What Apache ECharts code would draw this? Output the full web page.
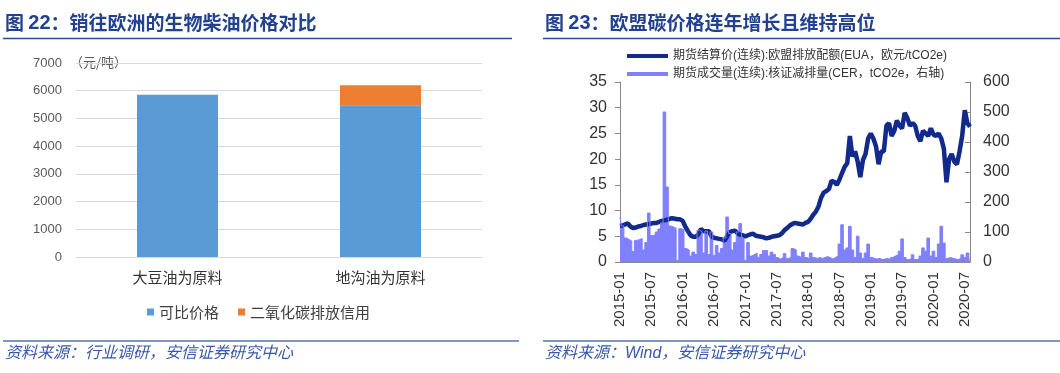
<!DOCTYPE html>
<html><head><meta charset="utf-8">
<script src="https://cdn.jsdelivr.net/npm/echarts@6/dist/echarts.min.js"></script>
<style>html,body{margin:0;padding:0;background:#fff}#c{width:1060px;height:373px}</style>
</head><body><div id="c"></div>
<script>
// ---- Figure 22 data ----
const barCategories = ['大豆油为原料', '地沟油为原料'];
const comparablePrice = [5850, 5480];
const co2Credit = [null, 720];
const barSeriesNames = ['可比价格', '二氧化碳排放信用'];

// ---- Figure 23 data (semi-monthly samples, 2015-01-01 .. 2020-08-01) ----
const dates = [];
for (let y = 2015; y <= 2020; y++) {
  for (let m = 1; m <= 12; m++) {
    for (const d of ['01', '16']) {
      if (dates.length < 135) dates.push(y + '-' + String(m).padStart(2, '0') + '-' + d);
    }
  }
}
const euaPrice = [
  7.0,7.1,7.3,7.5,6.9,6.6,6.7,6.9,7.0,7.2,7.3,7.4,
  7.5,7.6,7.6,7.8,8.0,8.1,8.2,8.4,8.5,8.4,8.3,8.3,
  8.0,6.9,6.0,5.2,4.9,4.9,5.4,6.4,6.0,6.0,6.0,5.0,
  4.7,4.6,4.5,4.4,4.1,5.0,5.8,6.0,6.1,5.6,5.3,5.2,
  5.0,5.2,5.4,5.5,5.1,5.0,4.9,4.8,4.6,4.7,4.9,5.0,
  5.1,5.2,5.6,6.2,6.6,7.1,7.4,7.6,7.5,7.4,7.3,7.6,
  7.8,8.4,9.2,9.8,10.8,12.5,13.5,13.8,14.2,15.8,15.6,15.0,
  16.0,17.3,18.5,19.2,24.5,20.5,21.5,19.5,16.5,19.8,21.0,24.0,
  25.0,24.0,22.5,19.0,21.5,21.5,26.5,27.0,24.5,25.5,27.5,26.5,
  26.0,29.0,28.0,26.5,27.0,26.5,24.5,23.5,25.5,25.0,24.5,26.0,
  24.8,24.5,25.0,24.0,22.0,15.5,20.0,21.0,19.5,19.0,21.5,24.5,
  29.5,27.0,26.3
];
const cerVolume = [
  150,120,80,75,70,35,72,75,78,40,65,163,
  88,90,100,110,130,500,250,120,117,112,5,111,
  108,45,40,20,33,25,106,100,30,103,25,100,
  22,55,30,45,80,150,95,40,65,100,128,80,
  5,65,20,25,30,15,25,38,38,20,33,25,
  15,10,15,28,12,15,45,40,20,15,33,15,
  12,30,15,12,15,12,15,18,15,10,15,20,
  60,124,40,47,119,40,15,86,30,12,30,60,
  15,12,10,12,8,10,12,8,15,20,24,36,
  77,15,8,10,24,8,10,20,47,36,80,20,
  36,15,60,119,63,12,15,12,10,8,12,24,
  15,30,24
];
const lineSeriesNames = ['期货结算价(连续):欧盟排放配额(EUA，欧元/tCO2e)', '期货成交量(连续):核证减排量(CER，tCO2e，右轴)'];

const titleColor = '#22418E';
const srcColor = '#3858A8';
const cjk = '"Noto Sans CJK SC", sans-serif';
const latin = '"Liberation Sans", Arial, "Noto Sans CJK SC", sans-serif';

const chart = echarts.init(document.getElementById('c'));
chart.setOption({
  animation: false,
  backgroundColor: '#fff',
  graphic: [
    { type: 'text', left: 5, top: 13, style: {
        text: '{t|图 }{n|22}{t|：销往欧洲的生物柴油价格对比}',
        rich: { t: { fontFamily: cjk, fontSize: 19, fontWeight: 'bold', fill: titleColor },
                n: { fontFamily: latin, fontSize: 20, fontWeight: 'bold', fill: titleColor } } } },
    { type: 'text', left: 545, top: 13, style: {
        text: '{t|图 }{n|23}{t|：欧盟碳价格连年增长且维持高位}',
        rich: { t: { fontFamily: cjk, fontSize: 19, fontWeight: 'bold', fill: titleColor },
                n: { fontFamily: latin, fontSize: 20, fontWeight: 'bold', fill: titleColor } } } },
    { type: 'line', shape: { x1: 3, y1: 38.5, x2: 512, y2: 38.5 }, style: { stroke: '#2B4A96', lineWidth: 1.5 } },
    { type: 'line', shape: { x1: 543, y1: 38.5, x2: 1060, y2: 38.5 }, style: { stroke: '#2B4A96', lineWidth: 1.5 } },
    { type: 'line', shape: { x1: 3, y1: 341, x2: 519, y2: 341 }, style: { stroke: '#8095C8', lineWidth: 2 } },
    { type: 'line', shape: { x1: 543, y1: 341, x2: 1060, y2: 341 }, style: { stroke: '#8095C8', lineWidth: 2 } },
    { type: 'text', left: 70, top: 56, style: { text: '（元/吨）', fontFamily: cjk, fontSize: 13, fill: '#595959' } },
    { type: 'text', left: 5, top: 346, style: { text: '资料来源：行业调研，安信证券研究中心', fontFamily: latin, fontSize: 16, fontStyle: 'italic', fill: srcColor } },
    { type: 'text', left: 545, top: 346, style: { text: '资料来源：Wind，安信证券研究中心', fontFamily: latin, fontSize: 16, fontStyle: 'italic', fill: srcColor } }
  ],
  legend: [
    { data: barSeriesNames, left: 147, top: 304, padding: 0, itemGap: 19, itemWidth: 7, itemHeight: 7, icon: 'rect',
      textStyle: { fontFamily: cjk, fontSize: 15, color: '#404040', lineHeight: 16 } },
    { data: lineSeriesNames, orient: 'vertical', left: 627, top: 49, padding: 0, itemGap: 4, itemWidth: 41, itemHeight: 4, icon: 'rect',
      textStyle: { fontFamily: latin, fontSize: 12, color: '#333', lineHeight: 14 } }
  ],
  grid: [
    { left: 76, top: 63, width: 406, height: 194 },
    { left: 620, top: 82, width: 350, height: 180 }
  ],
  xAxis: [
    { type: 'category', gridIndex: 0, data: barCategories,
      axisLine: { lineStyle: { color: '#D9D9D9' } }, axisTick: { show: false },
      axisLabel: { fontFamily: cjk, fontSize: 15, color: '#333', margin: 13 } },
    { type: 'category', gridIndex: 1, data: dates, boundaryGap: false,
      axisLine: { lineStyle: { color: '#898989' } }, axisTick: { show: false },
      axisLabel: { interval: 11, rotate: 90, fontFamily: latin, fontSize: 15, color: '#333', margin: 10,
        formatter: v => v.slice(0, 7) } }
  ],
  yAxis: [
    { type: 'value', gridIndex: 0, min: 0, max: 7000, interval: 1000,
      axisLine: { show: false }, axisTick: { show: false },
      splitLine: { lineStyle: { color: '#D9D9D9' } },
      axisLabel: { fontFamily: latin, fontSize: 13, color: '#595959', margin: 14, formatter: v => String(v) } },
    { type: 'value', gridIndex: 1, min: 0, max: 35, interval: 5, position: 'left',
      axisLine: { show: true, lineStyle: { color: '#898989' } },
      axisTick: { show: true, length: 5, lineStyle: { color: '#898989' } },
      splitLine: { show: false },
      axisLabel: { fontFamily: latin, fontSize: 16, color: '#333', margin: 13 } },
    { type: 'value', gridIndex: 1, min: 0, max: 600, interval: 100, position: 'right',
      axisLine: { show: true, lineStyle: { color: '#898989' } },
      axisTick: { show: true, inside: true, length: 5, lineStyle: { color: '#898989' } },
      splitLine: { show: false },
      axisLabel: { fontFamily: latin, fontSize: 16, color: '#333', margin: 13 } }
  ],
  series: [
    { name: barSeriesNames[0], type: 'bar', stack: 'p', xAxisIndex: 0, yAxisIndex: 0, barWidth: 81,
      data: comparablePrice, itemStyle: { color: '#5B9BD5' } },
    { name: barSeriesNames[1], type: 'bar', stack: 'p', xAxisIndex: 0, yAxisIndex: 0, barWidth: 81,
      data: co2Credit, itemStyle: { color: '#ED7D31' } },
    { name: lineSeriesNames[0], type: 'line', xAxisIndex: 1, yAxisIndex: 1, data: euaPrice,
      showSymbol: false, lineStyle: { color: '#112A8C', width: 4.5 }, itemStyle: { color: '#112A8C' } },
    { name: lineSeriesNames[1], type: 'line', xAxisIndex: 1, yAxisIndex: 2, data: cerVolume, step: 'middle',
      showSymbol: false, lineStyle: { color: '#8080FF', width: 1 }, itemStyle: { color: '#8080FF' },
      areaStyle: { color: '#8080FF', opacity: 1 } }
  ]
});
</script>
</body></html>
